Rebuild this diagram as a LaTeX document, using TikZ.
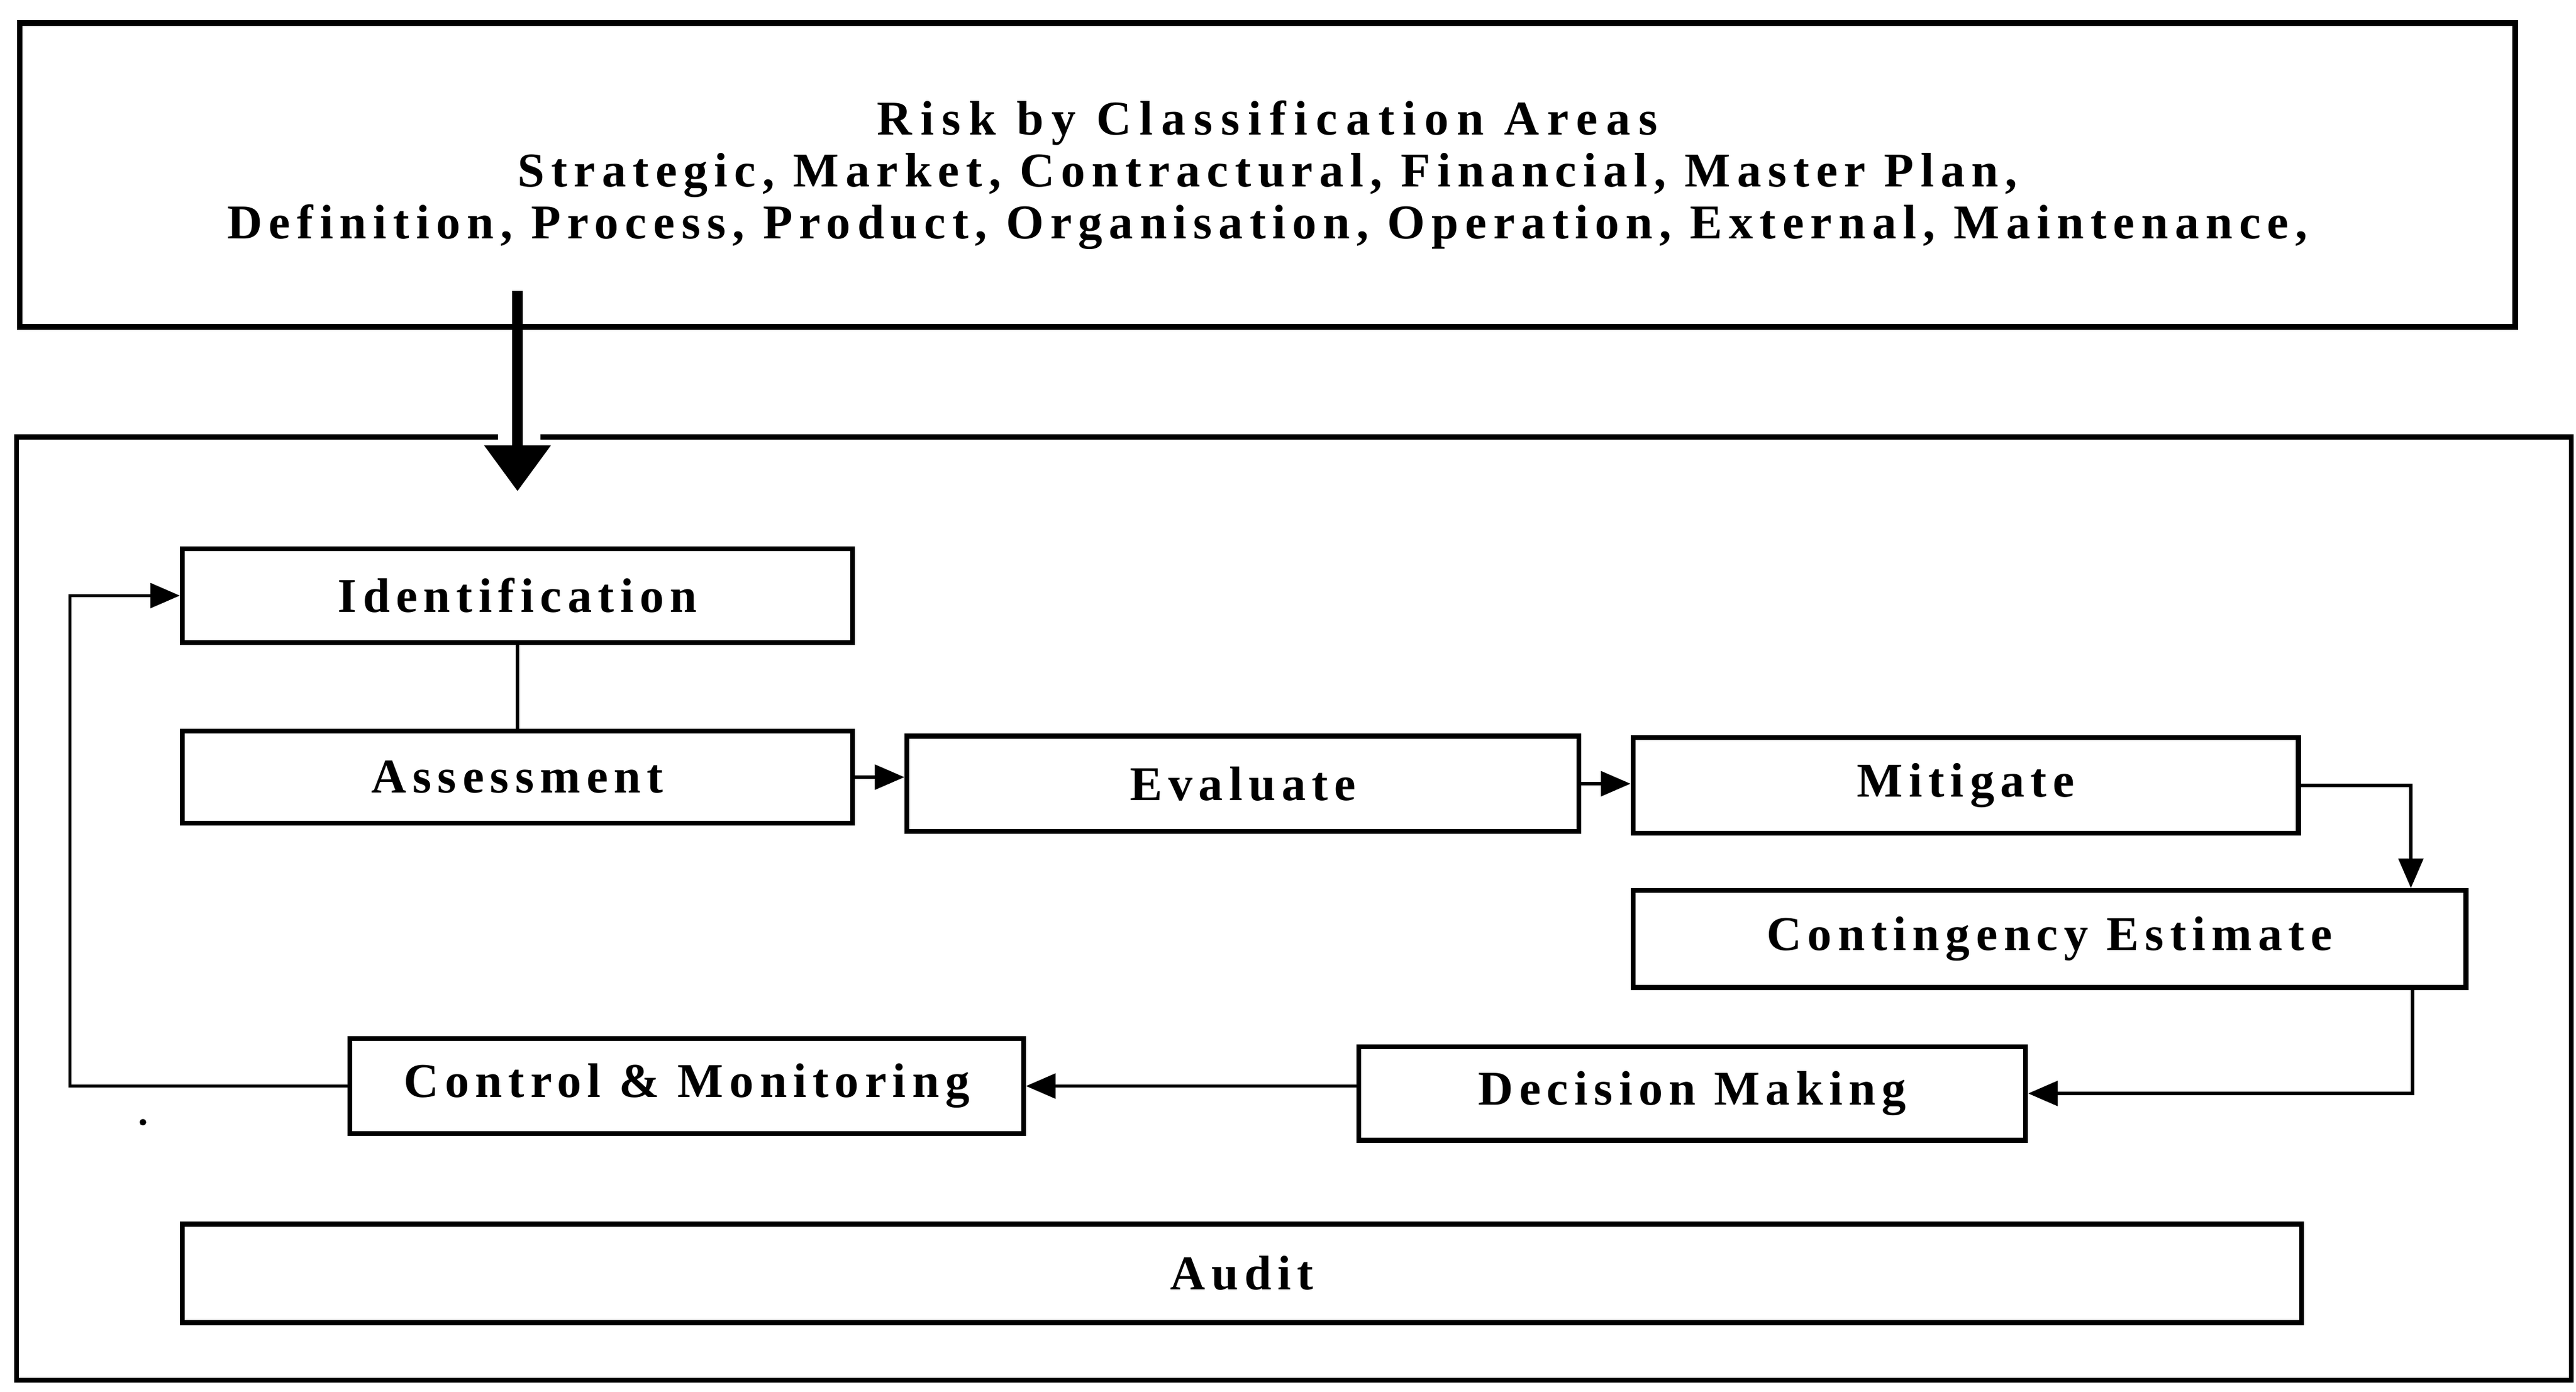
\documentclass[tikz,border=0pt]{standalone}
\usepackage{fontspec}
\setmainfont{Liberation Serif}
\usetikzlibrary{arrows.meta,calc}
\newcommand\myboxfont{\fontsize{21}{25}\selectfont\bfseries\addfontfeature{LetterSpace=12.5}}
\newcommand\mytopfont{\fontsize{21}{22.5}\selectfont\bfseries\addfontfeature{LetterSpace=13.5}}
\newcommand\mytitlefont{\addfontfeature{LetterSpace=17}}
\begin{document}
\begin{tikzpicture}[x=0.25mm,y=-0.25mm,
  box/.style={draw,line width=0.75mm,rectangle,inner sep=0pt,font=\myboxfont},
  sz/.style 2 args={minimum width=#1*0.25mm,minimum height=#2*0.25mm},
  link/.style={line width=0.5mm},
  conn/.style={line width=0.5mm,-{Triangle[length=4.5mm,width=3.75mm]}},
  bigarrow/.style={line width=1.6mm,-{Triangle[length=7mm,width=9.75mm]}},
  ]
\useasboundingbox (0,0) rectangle (1568,847);
% top box
\node[box,line width=0.85mm,sz={1519}{185},font=\mytopfont,align=center] (top) at (771.5,106.5)
  {{\mytitlefont Risk by Classification Areas}\\Strategic, Market, Contractural, Financial, Master Plan,\\Definition, Process, Product, Organisation, Operation, External, Maintenance,};
% outer frame
\node[box,sz={1555}{574}] (frame) at (787.5,553) {};
\fill[white] (303,260) rectangle (329,272);
\coordinate (astart) at (315,177);
\coordinate (aend) at (315,299);
\draw[bigarrow] (astart) -- (aend);
% process boxes
\node[box,sz={408}{57}] (ident) at (315,362.5) {Identification};
\node[box,sz={408}{56}] (assess) at (315,473) {Assessment};
\node[box,sz={409}{58}] (eval) at (756.5,477) {Evaluate};
\node[box,sz={405}{58}] (mitig) at (1196.5,478) {Mitigate};
\node[box,sz={507}{59}] (conting) at (1247.5,571.5) {Contingency Estimate};
\node[box,sz={406}{57}] (decision) at (1030,665.5) {Decision Making};
\node[box,sz={410}{58}] (control) at (418,661) {Control \& Monitoring};
\node[box,sz={1290}{60}] (audit) at (756,775) {Audit};
% connectors
\draw[link] (ident.south) -- (assess.north);
\draw[conn] (assess.east) -- (assess.east -| eval.west);
\draw[conn] (eval.east) -- (eval.east -| mitig.west);
\coordinate (c1) at ($(conting.north east)+(-35,0)$);
\draw[conn] (mitig.east) -| (c1);
\coordinate (c2) at ($(conting.south east)+(-34,0)$);
\draw[conn] (c2) |- (decision.east);
\draw[conn] (decision.west |- control.east) -- (control.east);
\coordinate (c3) at ($(control.west)+(-169,0)$);
\draw[conn] (control.west) -- (c3) |- (ident.west);
% stray dot
\fill (87,683) circle (2);
\end{tikzpicture}
\end{document}
